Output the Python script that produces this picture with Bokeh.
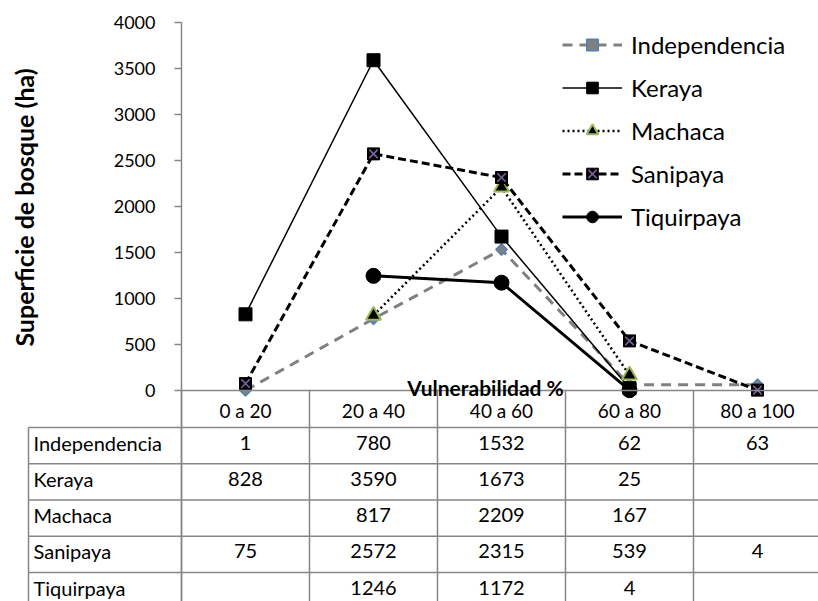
import math
from bokeh.plotting import figure
from bokeh.models import (Range1d, FixedTicker, Legend, LegendItem, Label, ColumnDataSource)
from bokeh.core.properties import value
from bokeh.embed import file_html
from bokeh.resources import INLINE

# ---------------- data ----------------
categories = ["0 a 20", "20 a 40", "40 a 60", "60 a 80", "80 a 100"]
series_names = ["Independencia", "Keraya", "Machaca", "Sanipaya", "Tiquirpaya"]
independencia = [1, 780, 1532, 62, 63]
keraya = [828, 3590, 1673, 25, None]
machaca = [None, 817, 2209, 167, None]
sanipaya = [75, 2572, 2315, 539, 4]
tiquirpaya = [None, 1246, 1172, 4, None]
y_ticks = [0, 500, 1000, 1500, 2000, 2500, 3000, 3500, 4000]
x_title = "Vulnerabilidad %"
y_title = "Superficie de bosque (ha)"

series_values = [independencia, keraya, machaca, sanipaya, tiquirpaya]

# ---------------- layout / style ----------------
FONT = "Lato"
RULE = "#868686"
W, H = 818, 601
AXIS_PX = 181       # y axis position (px)
TOP = 22            # y = 4000 position (px)
CAT_PX = 128.0      # width of one category (px)
PX_PER_UNIT = 0.092 # px per hectare
ZERO_PX = 390       # y = 0 position (px)
HEADER_PX = 37      # header row height under the axis
ROW_PX = 36.25      # table row height
LABEL_COL_PX = 153  # width of the row-label column
TEXT_LIFT_PX = 3    # table text sits slightly above the row centre
Y_TITLE_X_PX = 23   # centre of the rotated y title
Y_TITLE_Y_PX = 207

n = len(categories)
n_rows = len(series_names)
x_axis_at = -0.5
x_lo = x_axis_at - AXIS_PX / CAT_PX
x_hi = x_axis_at + (W - AXIS_PX) / CAT_PX
y_top = max(y_ticks)
y_hi = y_top + TOP / PX_PER_UNIT
y_lo = -(H - ZERO_PX) / PX_PER_UNIT


def row_y(k):
    """data-y of the k-th table row boundary (k may be fractional)"""
    return -(HEADER_PX + ROW_PX * k) / PX_PER_UNIT


def text_y(i):
    return row_y(i + 0.5) + TEXT_LIFT_PX / PX_PER_UNIT


p = figure(width=W, height=H, x_range=Range1d(x_lo, x_hi), y_range=Range1d(y_lo, y_hi),
           output_backend="svg", toolbar_location=None,
           min_border_left=0, min_border_right=0, min_border_top=0, min_border_bottom=0)
p.outline_line_color = None
p.grid.visible = False

# x axis at y = 0 (category labels in the header row)
xa = p.xaxis[0]
xa.fixed_location = 0
xa.bounds = (x_axis_at, x_hi + 1)
xa.ticker = FixedTicker(ticks=list(range(n)))
xa.major_label_overrides = {i: c for i, c in enumerate(categories)}
xa.major_tick_out = 0
xa.major_tick_in = 0
xa.minor_tick_out = 0
xa.minor_tick_in = 0
xa.axis_line_color = RULE
xa.axis_line_width = 1.5
xa.major_label_text_font = FONT
xa.major_label_text_font_size = "19px"
xa.major_label_text_color = "black"
xa.major_label_standoff = 8

# y axis at the left edge of the first category
ya = p.yaxis[0]
ya.fixed_location = x_axis_at
ya.bounds = (y_lo, y_top)
ya.ticker = FixedTicker(ticks=y_ticks)
ya.major_tick_out = 7
ya.major_tick_in = 0
ya.minor_tick_out = 0
ya.minor_tick_in = 0
ya.axis_line_color = RULE
ya.axis_line_width = 1.5
ya.major_tick_line_color = RULE
ya.major_tick_line_width = 1.5
ya.major_label_text_font = FONT
ya.major_label_text_font_size = "18px"
ya.major_label_text_color = "black"
ya.major_label_standoff = 19

p.add_layout(Label(x=x_lo + Y_TITLE_X_PX / CAT_PX, y=(ZERO_PX - Y_TITLE_Y_PX) / PX_PER_UNIT,
                   text=y_title, angle=math.pi / 2, text_align="center", text_baseline="middle",
                   text_font=FONT, text_font_style="bold", text_font_size="25px",
                   text_color="black"))

# ---------------- table grid ----------------
label_left = x_axis_at - LABEL_COL_PX / CAT_PX
hy = [row_y(k) for k in range(n_rows + 1)]
p.segment(x0=[label_left] * len(hy), y0=hy, x1=[x_hi + 1] * len(hy), y1=hy,
          line_color=RULE, line_width=1.5)
v_xs = [i - 0.5 for i in range(n + 1)]
p.segment(x0=[label_left] + v_xs, y0=[row_y(0)] + [0] * len(v_xs),
          x1=[label_left] + v_xs, y1=[row_y(n_rows)] * (len(v_xs) + 1),
          line_color=RULE, line_width=1.5)

# row labels
p.text(x=[label_left + 5 / CAT_PX] * n_rows, y=[text_y(i) for i in range(n_rows)],
       text=series_names, text_align="left", text_baseline="middle",
       text_font=value(FONT), text_font_size="20px", text_color="black")

# values
tx, ty, tt = [], [], []
for i, vals in enumerate(series_values):
    for j, v in enumerate(vals):
        if v is not None:
            tx.append(j)
            ty.append(text_y(i))
            tt.append(str(v))
p.text(x=tx, y=ty, text=tt, text_align="center", text_baseline="middle",
       text_font=value(FONT), text_font_size="20px", text_color="black")


# ---------------- series ----------------
def pts(vals):
    xs = [i for i, v in enumerate(vals) if v is not None]
    ys = [v for v in vals if v is not None]
    return ColumnDataSource(dict(x=xs, y=ys))


items = []

s = pts(independencia)
r1 = p.line("x", "y", source=s, line_color="#808080", line_width=3, line_dash="10 7")
r2 = p.scatter("x", "y", source=s, marker="square", angle=math.pi / 4, size=8,
               fill_color="#808080", line_color="#4F81BD", line_width=1.5)
items.append(LegendItem(label=series_names[0], renderers=[r1, r2]))

s = pts(keraya)
r1 = p.line("x", "y", source=s, line_color="black", line_width=1.5)
r2 = p.scatter("x", "y", source=s, marker="square", size=13, fill_color="black", line_color="black")
items.append(LegendItem(label=series_names[1], renderers=[r1, r2]))

s = pts(machaca)
r1 = p.line("x", "y", source=s, line_color="black", line_width=2.5, line_dash="2 3")
r2 = p.scatter("x", "y", source=s, marker="triangle", size=15, fill_color="black",
               line_color="#9BBB59", line_width=2)
items.append(LegendItem(label=series_names[2], renderers=[r1, r2]))

s = pts(sanipaya)
r1 = p.line("x", "y", source=s, line_color="black", line_width=3, line_dash="8 4")
r2 = p.scatter("x", "y", source=s, marker="square", size=12, fill_color="black", line_color="black")
r3 = p.scatter("x", "y", source=s, marker="x", size=12, line_color="#8064A2", line_width=1.5)
items.append(LegendItem(label=series_names[3], renderers=[r1, r2, r3]))

s = pts(tiquirpaya)
r1 = p.line("x", "y", source=s, line_color="black", line_width=3)
r2 = p.scatter("x", "y", source=s, marker="circle", size=15, fill_color="black", line_color="black")
items.append(LegendItem(label=series_names[4], renderers=[r1, r2]))

legend = Legend(items=items, location=(562, 370), padding=0, margin=0, spacing=14,
                glyph_width=60, glyph_height=29, label_height=29, label_standoff=9,
                label_text_font=FONT, label_text_font_size="24px", label_text_color="black",
                border_line_color=None, background_fill_alpha=0)
p.add_layout(legend)

p.add_layout(Label(x=1.875, y=3 / PX_PER_UNIT, text=x_title, text_align="center",
                   text_baseline="alphabetic", text_font=FONT, text_font_style="bold",
                   text_font_size="21px", text_color="black"))

open("out.html", "w").write(file_html(p, INLINE))
